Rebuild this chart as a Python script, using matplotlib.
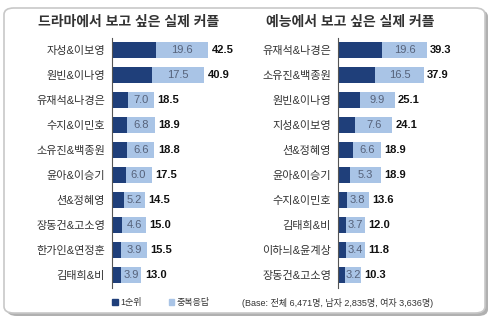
import matplotlib.pyplot as plt
from matplotlib.patches import FancyBboxPatch, Patch

plt.rcParams['font.family'] = ['Liberation Sans', 'Noto Sans CJK KR']

# 드라마
drama_names = ['자성&이보영', '원빈&이나영', '유재석&나경은', '수지&이민호', '소유진&백종원',
               '윤아&이승기', '션&정혜영', '장동건&고소영', '한가인&연정훈', '김태희&비']
drama_first = [19.6, 17.5, 7.0, 6.8, 6.6, 6.0, 5.2, 4.6, 3.9, 3.9]
drama_total = [42.5, 40.9, 18.5, 18.9, 18.8, 17.5, 14.5, 15.0, 15.5, 13.0]

# 예능
ent_names = ['유재석&나경은', '소유진&백종원', '원빈&이나영', '지성&이보영', '션&정혜영',
             '윤아&이승기', '수지&이민호', '김태희&비', '이하늬&윤계상', '장동건&고소영']
ent_first = [19.6, 16.5, 9.9, 7.6, 6.6, 5.3, 3.8, 3.7, 3.4, 3.2]
ent_total = [39.3, 37.9, 25.1, 24.1, 18.9, 18.9, 13.6, 12.0, 11.8, 10.3]

dark = '#1f3f7a'
light = '#a9c4e6'

W, H = 494, 326
fig = plt.figure(figsize=(W / 100, H / 100), dpi=100)

# frame with shadow
shadow = FancyBboxPatch((7 / W, 1 - 316 / H), 481 / W, 306 / H,
                        boxstyle='round,pad=0,rounding_size=0.02',
                        transform=fig.transFigure, fc='#b0b0b0', ec='none', zorder=-2)
frame = FancyBboxPatch((4 / W, 1 - 313 / H), 481 / W, 305 / H,
                       boxstyle='round,pad=0,rounding_size=0.02',
                       transform=fig.transFigure, fc='white', ec='#c8c8c8', lw=1.2, zorder=-1)
fig.patches.extend([shadow, frame])


def panel(left_px, names, first, total, title, title_x):
    ax = fig.add_axes([left_px / W, 1 - 287.5 / H, 113 / W, 250 / H])
    ax.patch.set_alpha(0)
    y = list(range(len(names)))
    ax.barh(y, total, height=0.64, color=light)
    ax.barh(y, first, height=0.64, color=dark)
    for yi, f, t in zip(y, first, total):
        ax.text((f + t) / 2, yi, f'{f:.1f}', ha='center', va='center',
                fontsize=8, color='#56627a')
        ax.text(t + 1.5, yi, f'{t:.1f}', ha='left', va='center',
                fontsize=8, fontweight='bold', color='#111111')
    ax.set_xlim(0, 50)
    ax.set_ylim(9.5, -0.5)
    ax.set_yticks(y)
    ax.set_yticklabels(names, fontsize=8, color='#333333')
    ax.tick_params(axis='y', length=0, pad=5)
    ax.set_xticks([])
    for s in ['top', 'right', 'bottom']:
        ax.spines[s].set_visible(False)
    ax.spines['left'].set_color('#555555')
    ax.spines['left'].set_linewidth(0.8)
    fig.text(title_x / W, 1 - 22 / H, title, ha='center', va='center',
             fontsize=10, fontweight='bold', color='#333333')


panel(112, drama_names, drama_first, drama_total, '드라마에서 보고 싶은 실제 커플', 129)
panel(338, ent_names, ent_first, ent_total, '예능에서 보고 싶은 실제 커플', 350)

handles = [Patch(color=dark, label='1순위'), Patch(color=light, label='중복응답')]
fig.legend(handles=handles, loc='center left', bbox_to_anchor=(104 / W, 1 - 303 / H),
           ncol=2, frameon=False, fontsize=6.5, handlelength=0.6, handleheight=0.6,
           handletextpad=0.3, columnspacing=3.0, labelcolor='#333333')
fig.text(242 / W, 1 - 303 / H, '(Base: 전체 6,471명, 남자 2,835명, 여자 3,636명)',
         ha='left', va='center', fontsize=6.5, color='#333333')

fig.savefig('out.png', dpi=100)
